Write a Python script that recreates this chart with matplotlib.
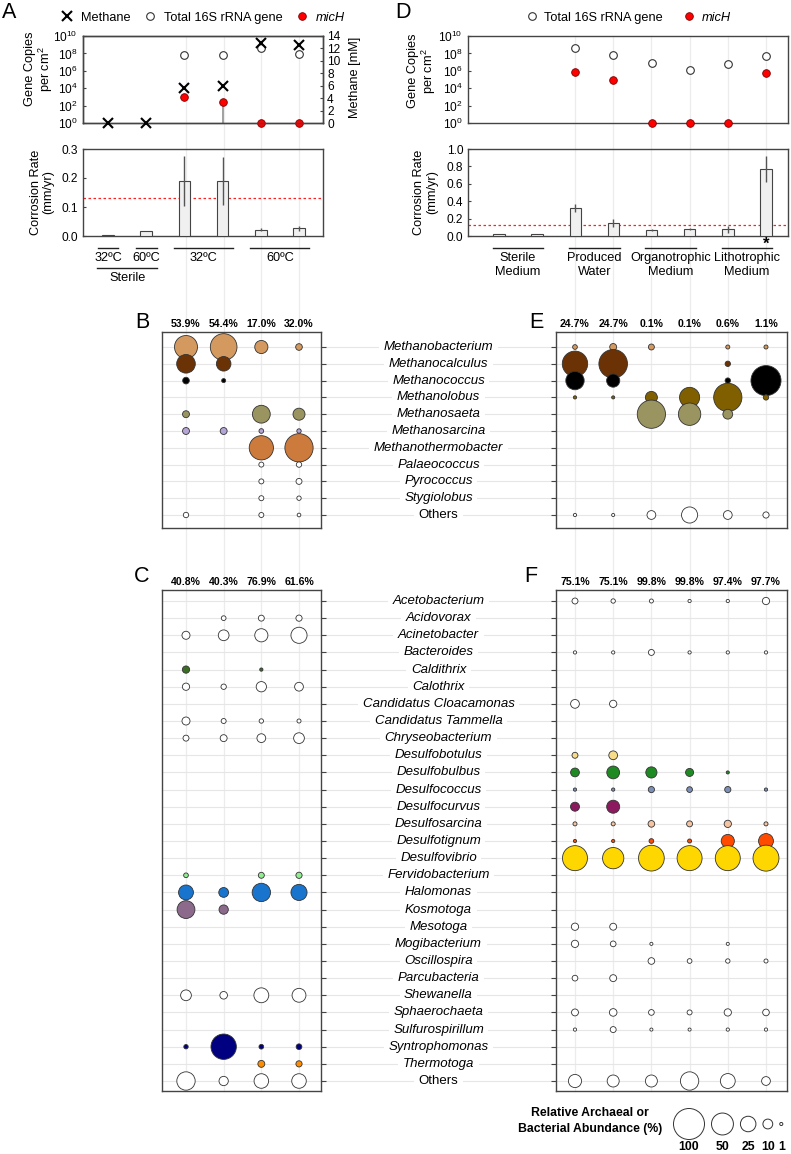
import matplotlib
matplotlib.use("Agg")
import matplotlib.pyplot as plt
import matplotlib.transforms as mtransforms
from matplotlib.ticker import NullLocator
import numpy as np

plt.rcParams['font.family'] = ['Liberation Sans', 'DejaVu Sans']
plt.rcParams['mathtext.default'] = 'regular'

# ---------------- DATA ----------------
# Panel A (6 samples)
A_methane = [0, 0, 5.6, 6.0, 12.8, 12.6]              # mM
A_total16S = [np.nan, np.nan, 6.3e7, 6.3e7, 3.7e8, 7.9e7]
A_micH = [np.nan, np.nan, 1.0e3, 2.8e2, 1, 1]
A_micH_err_low = [0, 0, 0, 2.8e2 - 1, 0, 0]
A_corr = [0.003, 0.017, 0.19, 0.19, 0.021, 0.026]
A_corr_err = [0, 0, 0.085, 0.082, 0.005, 0.008]
A_groups = [("32ºC", 1, 1), ("60ºC", 2, 2), ("32ºC", 3, 4), ("60ºC", 5, 6)]
A_super = [("Sterile", 1, 2)]

# Panel D (8 samples)
D_total16S = [np.nan, np.nan, 4.0e8, 6.3e7, 8.9e6, 1.15e6, 5.8e6, 4.5e7]
D_micH = [np.nan, np.nan, 8.0e5, 9.5e4, 1, 1, 1, 6.3e5]
D_corr = [0.025, 0.025, 0.318, 0.146, 0.069, 0.080, 0.080, 0.774]
D_corr_err = [0, 0, 0.045, 0.045, 0.008, 0.012, 0.040, 0.150]
D_groups = [("Sterile\nMedium", 1, 2), ("Produced\nWater", 3, 4),
            ("Organotrophic\nMedium", 5, 6), ("Lithotrophic\nMedium", 7, 8)]
threshold = 0.13

# Archaea (B: 4 samples, E: 6 samples)
arch_genera = ["Methanobacterium", "Methanocalculus", "Methanococcus", "Methanolobus",
               "Methanosaeta", "Methanosarcina", "Methanothermobacter", "Palaeococcus",
               "Pyrococcus", "Stygiolobus", "Others"]
arch_colors = ["#D4995F", "#6B3206", "#000000", "#7F5F00", "#9A9460", "#B4A5D6",
               "#CD7B3C", "white", "white", "white", "white"]
B_pct = ["53.9%", "54.4%", "17.0%", "32.0%"]
B_values = [
    [55, 74, 18, 4.6],
    [36, 22, 0, 0],
    [4.6, 1.7, 0, 0],
    [0, 0, 0, 0],
    [5, 0, 33, 15],
    [5, 5, 2.3, 2],
    [0, 0, 61, 83],
    [0, 0, 2.6, 3],
    [0, 0, 2.6, 3.7],
    [0, 0, 2.6, 2],
    [3, 0, 2.6, 1.4],
]
E_pct = ["24.7%", "24.7%", "0.1%", "0.1%", "0.6%", "1.1%"]
E_values = [
    [2.3, 5, 3.7, 0, 1.7, 1.7],
    [67, 85, 0, 0, 3, 0],
    [35, 18, 0, 0, 3, 94],
    [1.1, 1, 15, 42, 83, 3],
    [0, 0, 83, 52, 10, 0],
    [0, 0, 0, 0, 0, 0],
    [0, 0, 0, 0, 0, 0],
    [0, 0, 0, 0, 0, 0],
    [0, 0, 0, 0, 0, 0],
    [0, 0, 0, 0, 0, 0],
    [1.1, 1, 8, 27, 8, 4],
]

# Bacteria (C: 4 samples, F: 6 samples)
bact_genera = ["Acetobacterium", "Acidovorax", "Acinetobacter", "Bacteroides", "Caldithrix",
               "Calothrix", "Candidatus Cloacamonas", "Candidatus Tammella", "Chryseobacterium",
               "Desulfobotulus", "Desulfobulbus", "Desulfococcus", "Desulfocurvus",
               "Desulfosarcina", "Desulfotignum", "Desulfovibrio", "Fervidobacterium",
               "Halomonas", "Kosmotoga", "Mesotoga", "Mogibacterium", "Oscillospira",
               "Parcubacteria", "Shewanella", "Sphaerochaeta", "Sulfurospirillum",
               "Syntrophomonas", "Thermotoga", "Others"]
bact_colors = ["white", "white", "white", "white", "#3B6E22",
               "white", "white", "white", "white",
               "#F7DC8A", "#1E8B22", "#7E8FB5", "#8B1A5E",
               "#F6C3A0", "#FF4A00", "#FFD700", "#90EE90",
               "#1874CD", "#8B6A8C", "white", "white", "white",
               "white", "white", "white", "white",
               "#000080", "#FF8C00", "white"]
C_pct = ["40.8%", "40.3%", "76.9%", "61.6%"]
C_values = [
    [0, 0, 0, 0], [0, 2.3, 3.7, 4], [6.7, 12, 18, 27], [0, 0, 0, 0], [5.5, 0, 1.1, 0],
    [5.5, 3, 11, 8], [0, 0, 0, 0], [6.7, 2.6, 2, 1.7], [3.7, 5, 8, 12],
    [0, 0, 0, 0], [0, 0, 0, 0], [0, 0, 0, 0], [0, 0, 0, 0],
    [0, 0, 0, 0], [0, 0, 0, 0], [0, 0, 0, 0], [2.3, 0, 3.7, 4],
    [23, 10, 35, 27], [33, 9, 0, 0], [0, 0, 0, 0], [0, 0, 0, 0], [0, 0, 0, 0],
    [0, 0, 0, 0], [12, 6, 23, 20], [0, 0, 0, 0], [0, 0, 0, 0],
    [2, 67, 2.3, 3.4], [0, 0, 5, 4], [35, 9, 22, 22],
]
F_pct = ["75.1%", "75.1%", "99.8%", "99.8%", "97.4%", "97.7%"]
F_values = [
    [3.7, 2, 1.7, 1.1, 1.1, 5.5], [0, 0, 0, 0, 0, 0], [0, 0, 0, 0, 0, 0],
    [1.1, 1.1, 3.7, 1.1, 1.1, 1.1], [0, 0, 0, 0, 0, 0],
    [0, 0, 0, 0, 0, 0], [8, 5.5, 0, 0, 0, 0], [0, 0, 0, 0, 0, 0], [0, 0, 0, 0, 0, 0],
    [3.7, 8, 0, 0, 0, 0], [8, 17, 13, 6.7, 1, 0], [1.1, 1.1, 4, 3.4, 4, 1.1],
    [8.4, 17.6, 0, 0, 0, 0],
    [1.7, 1.7, 4.6, 3.7, 5.5, 1.7], [1.1, 1.1, 2.3, 1.7, 18, 23],
    [65, 47, 69, 65, 65, 70], [0, 0, 0, 0, 0, 0],
    [0, 0, 0, 0, 0, 0], [0, 0, 0, 0, 0, 0], [5.5, 5, 0, 0, 0, 0],
    [5.5, 3.4, 1, 0, 1, 0], [0, 0, 4.6, 2.3, 2, 1.7],
    [3.4, 5, 0, 0, 0, 0], [0, 0, 0, 0, 0, 0], [5, 6, 3.4, 2.6, 5.5, 4.6],
    [1.1, 3.7, 1, 1, 1.1, 1.1],
    [0, 0, 0, 0, 0, 0], [0, 0, 0, 0, 0, 0], [18, 15, 15, 35, 23, 8],
]
legend_sizes = [100, 50, 25, 10, 1]

# ---------------- LAYOUT ----------------
W, H = 791, 1154
fig = plt.figure(figsize=(W / 100, H / 100), dpi=100)

FS = 9.2      # general text
TFS = 8.6     # tick labels


def rect(x0, y0, x1, y1):
    return [x0 / W, 1 - y1 / H, (x1 - x0) / W, (y1 - y0) / H]


def fy(py):
    return 1 - py / H


SPINE = "#444444"
GRID = "#e6e6e6"
D100 = 31.0  # px diameter for 100 %


def size_of(v):
    return (D100 * 0.72) ** 2 * np.asarray(v, dtype=float) / 100.0


bg = fig.add_axes([0, 0, 1, 1], zorder=-5)
bg.set_xlim(0, W)
bg.set_ylim(H, 0)
bg.axis('off')


def style_spines(ax):
    for s in ax.spines.values():
        s.set_color(SPINE)
        s.set_linewidth(1.0)


# ---------- Gene copy panels ----------
def gene_panel(ax, n, total, mich, xl, lab_xy, err_low=None):
    x = np.arange(1, n + 1)
    ax.set_yscale('log')
    ax.set_ylim(1, 1e10)
    ax.set_xlim(*xl)
    ax.set_yticks([10.0 ** k for k in range(0, 11, 2)])
    ax.set_yticklabels(['$10^{%d}$' % k for k in range(0, 11, 2)])
    ax.yaxis.set_minor_locator(NullLocator())
    ax.set_xticks([])
    ax.tick_params(axis='y', labelsize=TFS, length=2, direction='in', color=SPINE, pad=4)
    if err_low is not None:
        ax.errorbar(x, mich, yerr=[err_low, [0] * n], fmt='none', ecolor='#9a9a9a',
                    elinewidth=1.3, zorder=2)
    ht, = ax.plot(x, total, 'o', mfc='white', mec='#333333', ms=5.5, mew=0.8,
                  ls='none', clip_on=False, zorder=3)
    hr, = ax.plot(x, mich, 'o', mfc='#FF0000', mec='#7a0000', ms=5.5, mew=0.6,
                  ls='none', clip_on=False, zorder=4)
    ax.set_ylabel("Gene Copies\nper cm$^2$", fontsize=FS, linespacing=1.05)
    ax.yaxis.set_label_coords(*lab_xy)
    style_spines(ax)
    return ht, hr


axA = fig.add_axes(rect(83, 36, 323, 123), facecolor='none')
htA, hrA = gene_panel(axA, 6, A_total16S, A_micH, (0.345, 6.628), (-0.117, 0.62),
                      A_micH_err_low)
axAr = axA.twinx()
axAr.set_ylim(0, 14)
axAr.set_yticks(range(0, 15, 2))
axAr.tick_params(axis='y', labelsize=TFS, length=2, direction='in', color=SPINE, pad=3)
hmA, = axAr.plot(np.arange(1, 7), A_methane, 'x', color='black', ms=6.5, mew=1.5,
                 ls='none', clip_on=False, zorder=5)
axAr.set_ylabel("Methane [mM]", fontsize=FS)
axAr.yaxis.set_label_coords(1.11, 0.52)
style_spines(axAr)
legA = axA.legend([hmA, htA, hrA], ["Methane", "Total 16S rRNA gene", "micH"],
                  loc='center', bbox_to_anchor=(0.5, 1.21), ncol=3, frameon=False,
                  fontsize=FS, handlelength=1.0, handletextpad=0.6, columnspacing=1.0,
                  borderaxespad=0, borderpad=0)
legA.get_texts()[2].set_style('italic')

axD = fig.add_axes(rect(468, 36, 788, 123), facecolor='none')
htD, hrD = gene_panel(axD, 8, D_total16S, D_micH, (0.187, 8.577), (-0.094, 0.6))
legD = axD.legend([htD, hrD], ["Total 16S rRNA gene", "micH"],
                  loc='center', bbox_to_anchor=(0.5, 1.21), ncol=2, frameon=False,
                  fontsize=FS, handlelength=1.0, handletextpad=0.5, columnspacing=1.5,
                  borderaxespad=0, borderpad=0)
legD.get_texts()[1].set_style('italic')


# ---------- Corrosion panels ----------
def corr_panel(ax, vals, errs, xl, ymax, ticks, labx):
    x = np.arange(1, len(vals) + 1)
    ax.bar(x, vals, width=0.3, color='#f0f0f0', edgecolor='#444444', linewidth=0.8,
           yerr=errs, error_kw=dict(ecolor='#555555', elinewidth=1.0, capsize=0), zorder=3)
    ax.axhline(threshold, color='#ff2020', ls=(0, (2, 2)), lw=0.9, zorder=2)
    ax.set_xlim(*xl)
    ax.set_ylim(0, ymax)
    ax.set_yticks(ticks)
    ax.set_yticklabels(['%.1f' % t for t in ticks])
    ax.set_xticks([])
    ax.tick_params(axis='y', labelsize=TFS, length=2, direction='in', color=SPINE, pad=3.5)
    ax.set_ylabel("Corrosion Rate\n(mm/yr)", fontsize=FS, linespacing=1.05)
    ax.yaxis.set_label_coords(labx, 0.5)
    style_spines(ax)


axA2 = fig.add_axes(rect(83, 149, 323, 236), facecolor='none')
corr_panel(axA2, A_corr, A_corr_err, (0.345, 6.628), 0.3, [0.0, 0.1, 0.2, 0.3], -0.121)
axD2 = fig.add_axes(rect(468, 149, 788, 236), facecolor='none')
corr_panel(axD2, D_corr, D_corr_err, (0.187, 8.577), 1.0, [0.0, 0.2, 0.4, 0.6, 0.8, 1.0],
           -0.094)


def group_label(ax, text, a, b, half, yline, ytext):
    tr = mtransforms.blended_transform_factory(ax.transData, fig.transFigure)
    ax.plot([a - half, b + half], [fy(yline), fy(yline)], color='#222222', lw=1.0,
            transform=tr, clip_on=False)
    ax.text((a + b) / 2, fy(ytext), text, transform=tr, ha='center', va='center',
            fontsize=FS, linespacing=1.3)


for t, a, b in A_groups:
    group_label(axA2, t, a, b, 0.27, 248, 258)
for t, a, b in A_super:
    group_label(axA2, t, a, b, 0.29, 268, 278)
for t, a, b in D_groups:
    group_label(axD2, t, a, b, 0.16, 248, 265)
trD = mtransforms.blended_transform_factory(axD2.transData, fig.transFigure)
axD2.text(len(D_corr), fy(244), "*", transform=trD, ha='center', va='center',
          fontsize=12, fontweight='bold')


# ---------- Bubble panels ----------
def bubble_panel(rect_px, values, colors, pct, header_py, xl, n_rows, yl, right_ticks):
    ax = fig.add_axes(rect(*rect_px), facecolor='none')
    vals = np.array(values, dtype=float)
    ncol = vals.shape[1]
    xs, ys, ss, cs = [], [], [], []
    for i in range(vals.shape[0]):
        for j in range(ncol):
            if vals[i, j] > 0:
                xs.append(j + 1)
                ys.append(i)
                ss.append(vals[i, j])
                cs.append(colors[i])
    ax.scatter(xs, ys, s=size_of(ss), c=cs, edgecolors='#333333', linewidths=0.6,
               zorder=3)
    ax.set_xlim(*xl)
    ax.set_ylim(*yl)
    ax.set_xticks([])
    ax.set_yticks(range(n_rows))
    ax.set_yticklabels([])
    if right_ticks:
        ax.yaxis.tick_right()
    ax.tick_params(axis='y', direction='out', length=3.5, color=SPINE, width=0.8)
    style_spines(ax)
    tr = mtransforms.blended_transform_factory(ax.transData, fig.transFigure)
    for j, p in enumerate(pct):
        ax.text(j + 1, fy(header_py), p, transform=tr, ha='center', va='center',
                fontsize=7.6, fontweight='bold')
    return ax


axB = bubble_panel((162, 332, 321, 528), B_values, arch_colors, B_pct, 324,
                   (0.363, 4.584), 11, (10.774, -0.893), True)
axE = bubble_panel((556, 332, 787, 528), E_values, arch_colors, E_pct, 324,
                   (0.503, 6.55), 11, (10.774, -0.893), False)
axC = bubble_panel((162, 590, 321, 1091), C_values, bact_colors, C_pct, 582,
                   (0.363, 4.584), 29, (28.583, -0.642), True)
axF = bubble_panel((556, 590, 787, 1091), F_values, bact_colors, F_pct, 582,
                   (0.503, 6.55), 29, (28.583, -0.642), False)


def row_lines_and_labels(axL, axR, genera):
    pL = axL.get_position()
    pR = axR.get_position()
    xmax = (pR.x1 - pL.x0) / pL.width
    for i, g in enumerate(genera):
        axL.axhline(i, xmin=0, xmax=xmax, color=GRID, lw=0.8, zorder=0, clip_on=False)
    trL = mtransforms.blended_transform_factory(fig.transFigure, axL.transData)
    xc = (pL.x1 + pR.x0) / 2
    for i, g in enumerate(genera):
        fig.text(xc, i, g, transform=trL, ha='center', va='center', fontsize=FS + 0.3,
                 style='normal' if g == "Others" else 'italic',
                 bbox=dict(boxstyle='square,pad=0.35', facecolor='white', edgecolor='none'))


row_lines_and_labels(axB, axE, arch_genera)
row_lines_and_labels(axC, axF, bact_genera)

# faint vertical guides through all panels at the bubble columns
inv = bg.transData.inverted()
for ax, n, topax in [(axC, 4, axA), (axF, 6, axD)]:
    y_bot = ax.get_position().y0
    y_top = topax.get_position().y1
    for j in range(1, n + 1):
        xd = ax.transData.transform((j, 0))[0]
        xpx = inv.transform((xd, 0))[0]
        bg.plot([xpx, xpx], [H * (1 - y_bot), H * (1 - y_top)], color='#ececec',
                lw=0.9, zorder=0)

# panel letters
for letter, px, py in [("A", 9, 12), ("D", 403, 12), ("B", 142, 322), ("E", 536, 322),
                       ("C", 142, 577), ("F", 531, 577)]:
    fig.text(px / W, fy(py), letter, ha='center', va='center', fontsize=15.5)

# size legend
fig.text(590 / W, fy(1121), "Relative Archaeal or\nBacterial Abundance (%)", ha='center',
         va='center', fontsize=8.8, fontweight='bold', linespacing=1.35)
axLg = fig.add_axes([0, 0, 1, 1], facecolor='none')
axLg.set_xlim(0, W)
axLg.set_ylim(H, 0)
axLg.axis('off')
diam = D100 * np.sqrt(np.array(legend_sizes) / 100.0) + 1
centers = []
for k, d in enumerate(diam):
    if k == 0:
        c = 673.0 + d / 2
    else:
        c = centers[-1] + diam[k - 1] / 2 + 6 + d / 2
    centers.append(c)
axLg.scatter(centers, [1124] * len(centers), s=size_of(legend_sizes), facecolors='white',
             edgecolors='#333333', linewidths=0.7, clip_on=False)
for c, v in zip(centers, legend_sizes):
    axLg.text(c, 1147, str(v), ha='center', va='center', fontsize=8.8, fontweight='bold')

fig.savefig("out.png", dpi=100)
